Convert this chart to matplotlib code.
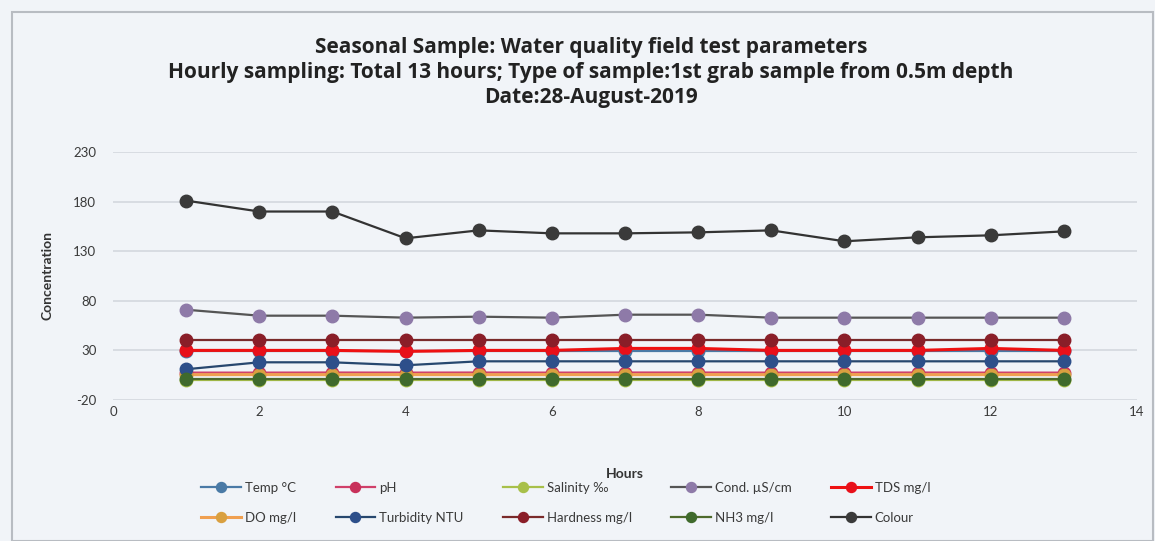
import matplotlib
matplotlib.use("Agg")
import matplotlib.pyplot as plt
from matplotlib.patches import Rectangle

plt.rcParams['font.family'] = ['Lato', 'DejaVu Sans']
plt.rcParams['axes.unicode_minus'] = False

hours = [1, 2, 3, 4, 5, 6, 7, 8, 9, 10, 11, 12, 13]
temp = [29.5, 29.5, 29.5, 29.5, 29.5, 29.5, 29.5, 29.5, 29.5, 29.5, 29.5, 29.5, 29.5]
ph = [7.6, 7.6, 7.7, 7.6, 7.7, 7.6, 7.7, 7.7, 7.6, 7.6, 7.7, 7.6, 7.6]
salinity = [0.2, 0.2, 0.2, 0.2, 0.2, 0.2, 0.2, 0.2, 0.2, 0.2, 0.2, 0.2, 0.2]
cond = [71, 65, 65, 63, 64, 63, 66, 66, 63, 63, 63, 63, 63]
tds = [30, 30, 30, 29, 30, 30, 32, 32, 30, 30, 30, 32, 30]
do = [5.5, 5.6, 5.5, 5.6, 5.5, 5.6, 5.5, 5.6, 5.5, 5.6, 5.5, 5.6, 5.5]
turbidity = [11, 18, 18, 15, 19, 19, 19, 19, 19, 19, 19, 19, 19]
hardness = [40, 40, 40, 40, 40, 40, 40, 40, 40, 40, 40, 40, 40]
nh3 = [0.8, 0.8, 0.8, 0.8, 0.8, 0.8, 0.8, 0.8, 0.8, 0.8, 0.8, 0.8, 0.8]
colour = [181, 170, 170, 143, 151, 148, 148, 149, 151, 140, 144, 146, 150]

names = ["Temp °C", "pH", "Salinity ‰", "Cond. µS/cm", "TDS mg/l",
         "DO mg/l", "Turbidity NTU", "Hardness mg/l", "NH3 mg/l", "Colour"]
series = [temp, ph, salinity, cond, tds, do, turbidity, hardness, nh3, colour]
line_colors = ["#4a7aa6", "#d0406a", "#a8c04a", "#555555", "#ee1111",
               "#f0a050", "#27476e", "#7a2a2a", "#4e6a2c", "#333333"]
marker_colors = ["#4a7aa6", "#c8305a", "#a8c04a", "#8e7aa8", "#e8101a",
                 "#d9a040", "#2d4f8a", "#8a1e28", "#3f6a2c", "#3a3a3a"]

bg = "#f1f4f8"
fig = plt.figure(figsize=(11.55, 5.41), dpi=100, facecolor=bg)
ax = fig.add_axes([113/1155, 1-400/541, (1137-113)/1155, (400-152)/541], facecolor=bg)

handles = []
for name, vals, lc, mc in zip(names, series, line_colors, marker_colors):
    lw = 2.2 if name in ("TDS mg/l", "DO mg/l") else 1.6
    h, = ax.plot(hours, vals, color=lc, lw=lw, marker='o', markersize=9,
                 markerfacecolor=mc, markeredgecolor=mc, label=name, zorder=3)
    handles.append(h)

ax.set_xlim(0, 14)
ax.set_ylim(-20, 230)
ax.set_xticks(range(0, 15, 2))
ax.set_yticks(range(-20, 231, 50))
ax.grid(axis='y', color='#d3d8de', lw=1.2, zorder=0)
for s in ax.spines.values():
    s.set_visible(False)
ax.tick_params(length=0, labelsize=9.5, colors='#3a3a3a')
ax.tick_params(axis='y', pad=12)
ax.tick_params(axis='x', pad=4)

ax.set_xlabel("Hours", fontsize=10, fontweight='bold', color='#333333', labelpad=36)
ax.set_ylabel("Concentration", fontsize=10, fontweight='bold', color='#333333', labelpad=14)

tkw = dict(ha='center', va='center', fontsize=15, fontweight='bold', color='#222222',
           family=['Open Sans', 'DejaVu Sans'])
fig.text(591/1155, 1-47/541, "Seasonal Sample: Water quality field test parameters", **tkw)
fig.text(591/1155, 1-73/541, "Hourly sampling: Total 13 hours; Type of sample:1st grab sample from 0.5m depth", **tkw)
fig.text(591/1155, 1-97/541, "Date:28-August-2019", **tkw)

order = [0, 5, 1, 6, 2, 7, 3, 8, 4, 9]
leg = fig.legend([handles[i] for i in order], [names[i] for i in order],
                 loc='center', bbox_to_anchor=(0.49, 1-503/541), ncol=5,
                 frameon=False, fontsize=9.5, handlelength=3.0, markerscale=0.8,
                 columnspacing=3.0, labelspacing=1.35, handletextpad=0.3)
for t in leg.get_texts():
    t.set_color('#3a3a3a')

fig.patches.append(Rectangle((12/1155, 0), 1-14/1155, 1-12/541, transform=fig.transFigure,
                             fill=False, edgecolor='#b8bcc2', lw=1.5))

fig.savefig("out.png", dpi=100, facecolor=bg)
